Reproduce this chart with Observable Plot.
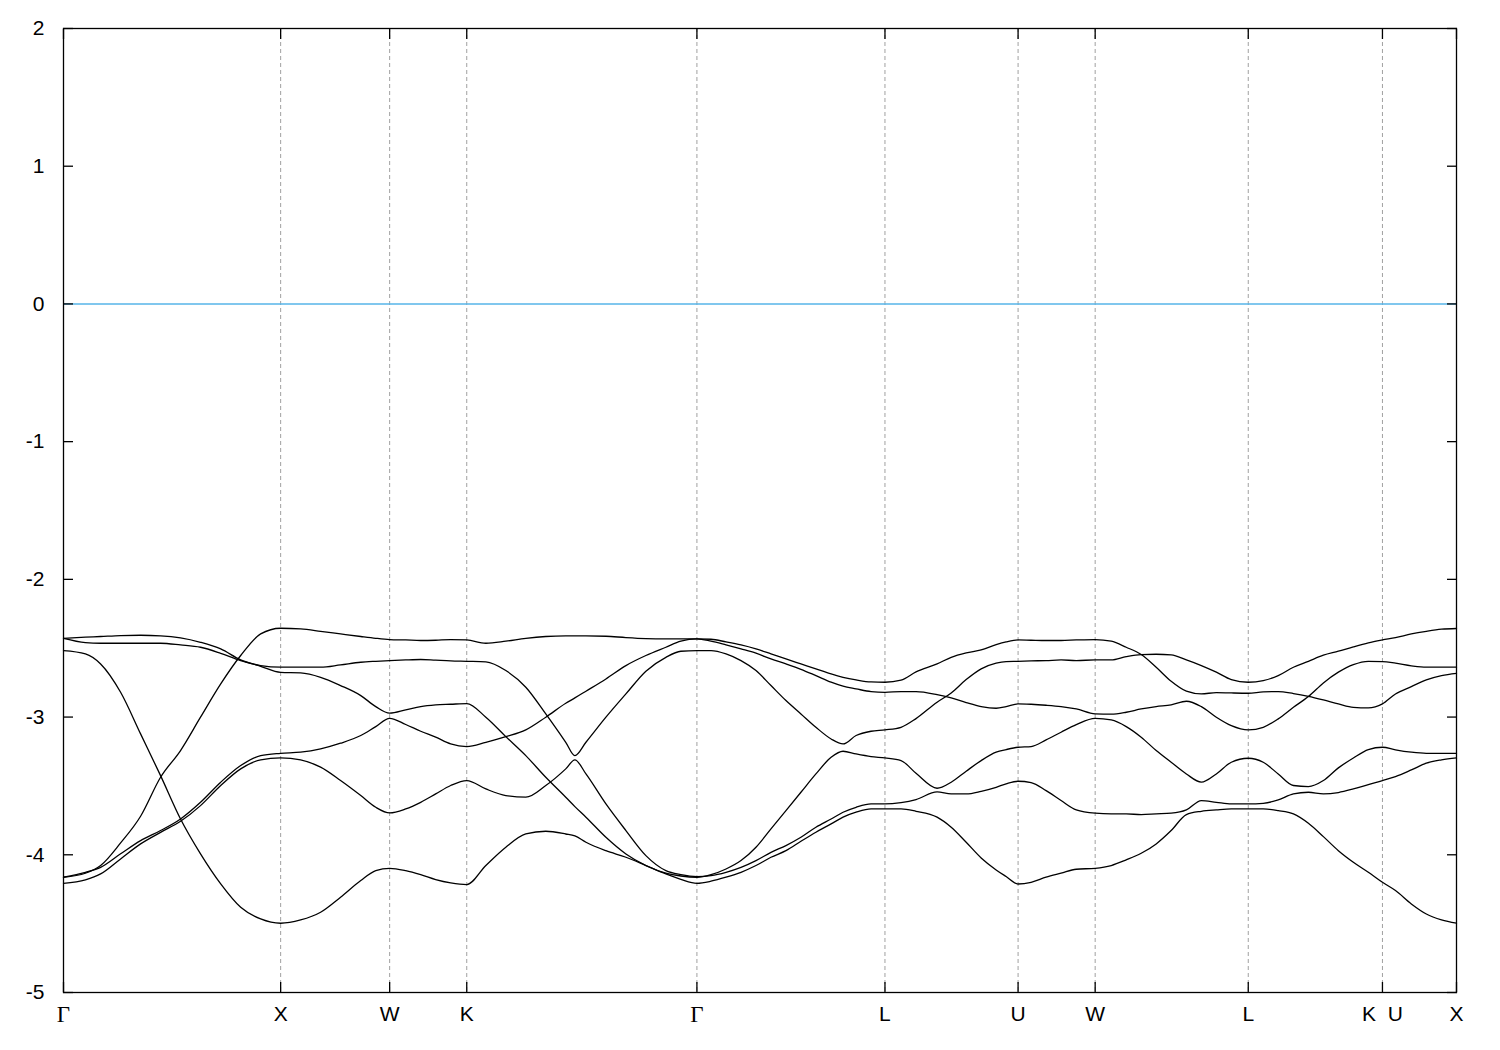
<!DOCTYPE html>
<html><head><meta charset="utf-8">
<script src="https://cdn.jsdelivr.net/npm/d3@7"></script>
<script src="https://cdn.jsdelivr.net/npm/@observablehq/plot@0.6"></script>
<style>body{margin:0;background:#fff} #chart svg{display:block}</style>
</head><body><div id="chart"></div>
<script>
// k-path coordinate (2π/a units) along Γ-X-W-K-Γ-L-U-W-L-K|U-X
const kPath = [
  0, 0.101, 0.171, 0.263, 0.355, 0.447, 0.539, 0.631, 0.724, 0.816, 0.908, 1.000,
  1.092, 1.184, 1.276, 1.369, 1.438, 1.502, 1.576, 1.645, 1.714, 1.783, 1.857,
  1.945, 2.037, 2.129, 2.221, 2.313, 2.355, 2.406, 2.498, 2.590, 2.682, 2.774, 2.843, 2.917,
  2.982, 3.051, 3.120, 3.189, 3.258, 3.327, 3.396, 3.465, 3.535, 3.590, 3.650, 3.719, 3.783,
  3.857, 3.926, 4.023, 4.088, 4.157, 4.226, 4.295, 4.341, 4.396, 4.456, 4.525, 4.594, 4.664, 4.751,
  4.825, 4.894, 4.963, 5.032, 5.101, 5.171, 5.240, 5.309, 5.378, 5.456, 5.525, 5.594, 5.664,
  5.733, 5.802, 5.871, 5.940, 6.009, 6.074, 6.134, 6.207, 6.276, 6.346, 6.415
];
const kTicks  = [0, 1.000, 1.502, 1.857, 2.917, 3.783, 4.396, 4.751, 5.456, 6.074, 6.415];
const kLabels = ["Γ", "X", "W", "K", "Γ", "L", "U", "W", "L", "K\u00a0\u00a0U", "X"];
const yTicks  = [-5, -4, -3, -2, -1, 0, 1, 2];
const fermiLevel = [0];

const bandA = [
  -2.428, -2.420, -2.415, -2.408, -2.406, -2.410, -2.425, -2.457, -2.505, -2.585, -2.631, -2.675,
  -2.679, -2.711, -2.771, -2.844, -2.924, -2.972, -2.948, -2.924, -2.912, -2.907, -2.902,
  -3.001, -3.142, -3.280, -3.437, -3.582, -3.650, -3.727, -3.873, -3.994, -4.078, -4.134, -4.154, -4.163,
  -4.144, -4.103, -4.042, -3.945, -3.812, -3.679, -3.546, -3.413, -3.292, -3.248, -3.268, -3.287, -3.297,
  -3.316, -3.408, -3.517, -3.473, -3.393, -3.316, -3.255, -3.236, -3.219, -3.214, -3.166, -3.110, -3.055, -3.009,
  -3.021, -3.069, -3.146, -3.243, -3.328, -3.413, -3.473, -3.413, -3.328, -3.299, -3.328, -3.413, -3.497,
  -3.505, -3.461, -3.369, -3.297, -3.236, -3.219, -3.238, -3.255, -3.263, -3.263, -3.263
];
const bandB = [
  -2.428, -2.459, -2.464, -2.464, -2.464, -2.464, -2.476, -2.493, -2.537, -2.590, -2.626, -2.638,
  -2.638, -2.638, -2.621, -2.602, -2.595, -2.590, -2.585, -2.582, -2.587, -2.592, -2.595,
  -2.599, -2.662, -2.783, -2.977, -3.183, -3.280, -3.183, -3.001, -2.832, -2.667, -2.566, -2.522, -2.517,
  -2.517, -2.541, -2.590, -2.662, -2.771, -2.880, -2.977, -3.074, -3.159, -3.195, -3.134, -3.103, -3.093,
  -3.074, -3.011, -2.892, -2.825, -2.728, -2.650, -2.609, -2.597, -2.595, -2.592, -2.590, -2.585, -2.590, -2.585,
  -2.585, -2.561, -2.546, -2.544, -2.549, -2.585, -2.626, -2.674, -2.728, -2.747, -2.735, -2.699, -2.638,
  -2.595, -2.551, -2.522, -2.490, -2.461, -2.440, -2.423, -2.396, -2.377, -2.362, -2.357
];
const bandC = [
  -4.163, -4.134, -4.078, -3.914, -3.720, -3.437, -3.243, -3.001, -2.759, -2.553, -2.396, -2.355,
  -2.360, -2.377, -2.396, -2.415, -2.428, -2.437, -2.440, -2.444, -2.442, -2.437, -2.440,
  -2.464, -2.449, -2.428, -2.415, -2.411, -2.411, -2.411, -2.413, -2.423, -2.430, -2.432, -2.432, -2.432,
  -2.435, -2.454, -2.476, -2.505, -2.541, -2.578, -2.614, -2.650, -2.687, -2.711, -2.730, -2.745, -2.747,
  -2.732, -2.672, -2.614, -2.566, -2.534, -2.512, -2.474, -2.454, -2.440, -2.442, -2.444, -2.444, -2.440, -2.437,
  -2.449, -2.493, -2.546, -2.638, -2.740, -2.812, -2.832, -2.822, -2.825, -2.827, -2.817, -2.815, -2.829,
  -2.849, -2.875, -2.904, -2.929, -2.933, -2.904, -2.832, -2.779, -2.730, -2.699, -2.682
];
const bandD = [
  -2.517, -2.541, -2.614, -2.820, -3.122, -3.425, -3.740, -3.993, -4.211, -4.381, -4.466, -4.497,
  -4.473, -4.417, -4.308, -4.187, -4.115, -4.098, -4.115, -4.144, -4.180, -4.204, -4.216,
  -4.078, -3.945, -3.849, -3.829, -3.849, -3.863, -3.909, -3.970, -4.018, -4.078, -4.139, -4.178, -4.207,
  -4.192, -4.163, -4.127, -4.078, -4.018, -3.970, -3.902, -3.836, -3.776, -3.727, -3.691, -3.667, -3.667,
  -3.667, -3.684, -3.727, -3.800, -3.909, -4.023, -4.110, -4.158, -4.212, -4.200, -4.163, -4.134, -4.105, -4.098,
  -4.078, -4.037, -3.989, -3.921, -3.824, -3.708, -3.684, -3.674, -3.667, -3.667, -3.667, -3.679, -3.703,
  -3.771, -3.868, -3.970, -4.054, -4.127, -4.200, -4.260, -4.357, -4.430, -4.473, -4.497
];
const bandE = [
  -4.163, -4.127, -4.091, -3.993, -3.897, -3.824, -3.740, -3.619, -3.473, -3.352, -3.280, -3.263,
  -3.255, -3.231, -3.190, -3.134, -3.069, -3.009, -3.054, -3.103, -3.146, -3.195, -3.214,
  -3.183, -3.142, -3.093, -3.001, -2.900, -2.861, -2.812, -2.723, -2.626, -2.553, -2.493, -2.449, -2.432,
  -2.449, -2.476, -2.505, -2.536, -2.578, -2.614, -2.653, -2.699, -2.747, -2.776, -2.795, -2.815, -2.820,
  -2.815, -2.815, -2.837, -2.861, -2.895, -2.924, -2.936, -2.924, -2.904, -2.907, -2.914, -2.924, -2.941, -2.977,
  -2.979, -2.965, -2.941, -2.924, -2.912, -2.885, -2.924, -3.001, -3.062, -3.093, -3.074, -3.013, -2.929,
  -2.851, -2.752, -2.674, -2.619, -2.595, -2.597, -2.609, -2.628, -2.638, -2.638, -2.638
];
const bandF = [
  -4.207, -4.182, -4.139, -4.030, -3.921, -3.837, -3.757, -3.643, -3.497, -3.376, -3.311, -3.296,
  -3.311, -3.364, -3.461, -3.570, -3.655, -3.696, -3.667, -3.619, -3.558, -3.497, -3.461,
  -3.522, -3.570, -3.582, -3.497, -3.376, -3.311, -3.413, -3.631, -3.824, -4.006, -4.115, -4.144, -4.158,
  -4.151, -4.127, -4.091, -4.042, -3.982, -3.933, -3.873, -3.800, -3.740, -3.691, -3.655, -3.631, -3.631,
  -3.621, -3.599, -3.543, -3.558, -3.558, -3.539, -3.510, -3.485, -3.466, -3.476, -3.534, -3.606, -3.674, -3.698,
  -3.703, -3.703, -3.708, -3.703, -3.698, -3.674, -3.606, -3.619, -3.631, -3.631, -3.626, -3.602, -3.558,
  -3.546, -3.558, -3.548, -3.522, -3.490, -3.461, -3.432, -3.384, -3.335, -3.311, -3.297
];

const bands = {A: bandA, B: bandB, C: bandC, D: bandD, E: bandE, F: bandF};
const rows = [];
for (const [name, arr] of Object.entries(bands)) {
  arr.forEach((e, i) => rows.push({band: name, k: kPath[i], e}));
}
const tickRows = kTicks.map((k, i) => ({k, label: kLabels[i]}));

const plot = Plot.plot({
  width: 1500, height: 1050,
  marginLeft: 63, marginRight: 44, marginTop: 28, marginBottom: 58,
  style: {fontFamily: "'Liberation Sans', Arial, sans-serif", fontSize: "21px", color: "black", background: "white"},
  x: {domain: [kTicks[0], kTicks[kTicks.length - 1]]},
  y: {domain: [yTicks[0], yTicks[yTicks.length - 1]]},
  marks: [
    Plot.ruleX(kTicks.slice(1, -1), {stroke: "#a0a0a0", strokeWidth: 1, strokeDasharray: "4,3"}),
    Plot.ruleY(fermiLevel, {stroke: "#56b4e9", strokeWidth: 1.4}),
    Plot.line(rows, {x: "k", y: "e", z: "band", stroke: "black", strokeWidth: 1.3, curve: "monotone-x"}),
    Plot.axisY({ticks: yTicks, tickSize: 0, tickPadding: 19, label: null, tickFormat: d => String(d), fontSize: 21}),
    Plot.axisY({ticks: yTicks, anchor: "left", tickSize: -10, tickFormat: () => "", label: null, strokeWidth: 1.3}),
    Plot.axisY({ticks: yTicks, anchor: "right", tickSize: -10, tickFormat: () => "", label: null, strokeWidth: 1.3}),
    Plot.axisX({ticks: kTicks, anchor: "bottom", tickSize: -10, tickFormat: () => "", label: null, strokeWidth: 1.3}),
    Plot.axisX({ticks: kTicks, anchor: "top", tickSize: -10, tickFormat: () => "", label: null, strokeWidth: 1.3}),
    Plot.text(tickRows.filter(d => d.label === "Γ"), {x: "k", text: "label", frameAnchor: "bottom", dy: 29, fontFamily: "'Liberation Serif', 'DejaVu Serif', serif", fontSize: 23}),
    Plot.text(tickRows.filter(d => d.label !== "Γ"), {x: "k", text: "label", frameAnchor: "bottom", dy: 28, fontSize: 21}),
    Plot.frame({stroke: "black", strokeWidth: 1.3})
  ]
});
document.getElementById("chart").appendChild(plot);
</script>
</body></html>
